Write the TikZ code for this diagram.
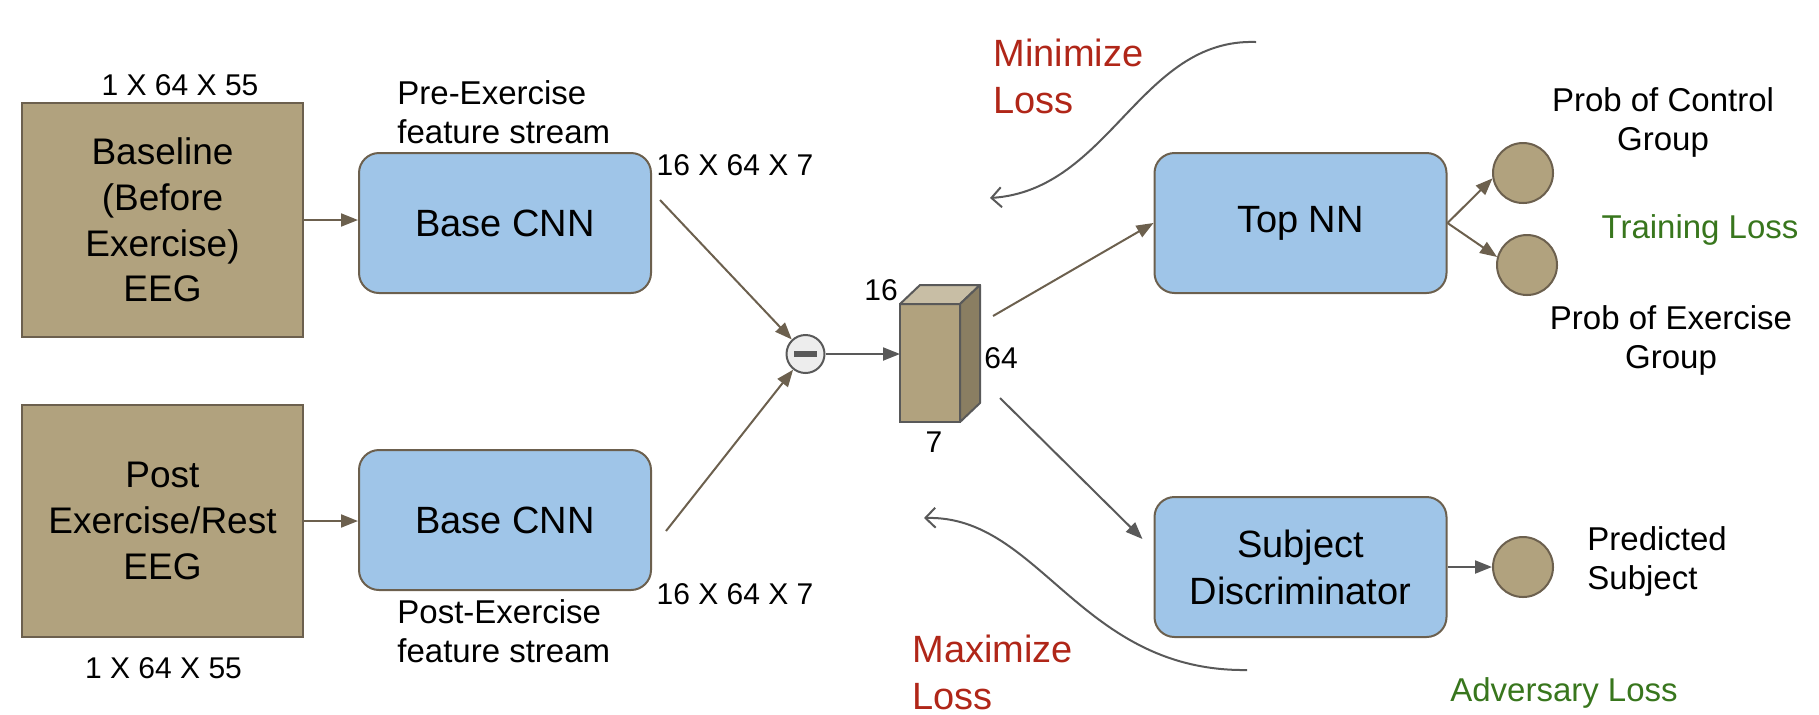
\documentclass[tikz,border=0pt]{standalone}
\usepackage{fontspec}
\setmainfont{Liberation Sans}
\usepackage{tikz}
\usetikzlibrary{arrows.meta,calc,positioning}
\definecolor{tierra}{RGB}{177,162,126}
\definecolor{borde}{RGB}{108,96,78}
\definecolor{celeste}{RGB}{159,197,232}
\definecolor{gris}{RGB}{89,89,89}
\definecolor{rojo}{RGB}{176,38,24}
\definecolor{verde}{RGB}{56,118,29}
\tikzset{
  entrada/.style={rectangle,fill=tierra,draw=borde,line width=1pt,minimum width=140.5pt,align=center,font=\fontsize{18.5}{22.8}\selectfont},
  capa/.style={rectangle,rounded corners=10pt,fill=celeste,draw=borde,line width=1pt,minimum width=146pt,minimum height=70pt,align=center,font=\fontsize{19}{23.5}\selectfont},
  salida/.style={circle,fill=tierra,draw=borde,line width=1pt,minimum size=30pt,inner sep=0pt},
  resta/.style={circle,fill=black!7,draw=gris,line width=1pt,minimum size=19pt,inner sep=0pt},
  flecha/.style={-{Triangle[length=8.5pt,width=6.5pt]},line width=1pt,draw=borde},
  curva/.style={-{Straight Barb[length=5pt,width=10pt]},line width=1pt,draw=gris},
  etiq/.style={font=\fontsize{15}{18}\selectfont,inner sep=0pt},
  nota/.style={font=\fontsize{16.5}{19.5}\selectfont,align=center,inner sep=0pt},
  perdida/.style={font=\fontsize{19}{23.5}\selectfont,align=left,inner sep=0pt,anchor=west,text=rojo}
}
\begin{document}
\begin{tikzpicture}[x=0.5pt,y=-0.5pt]
\useasboundingbox (0,0) rectangle (1819,714);
\node[entrada,minimum height=117pt] (pre) at (162.5,220) {Baseline\\(Before\\Exercise)\\EEG};
\node[entrada,minimum height=116pt] (post) at (162.5,521) {Post\\Exercise/Rest\\EEG};
\node[etiq] (dimpre) at (180,85) {1 X 64 X 55}; \node[etiq] (dimpost) at (163.5,668.5) {1 X 64 X 55};
\node[capa] (cnnpre) at (505,223) {Base CNN}; \node[capa] (cnnpost) at (505,520) {Base CNN};
\node[nota,align=left,anchor=west] (flujopre) at (397,112) {Pre-Exercise\\feature stream};
\node[nota,align=left,anchor=west] (flujopost) at (397,631) {Post-Exercise\\feature stream};
\node[etiq] (dimsup) at (735,165) {16 X 64 X 7}; \node[etiq] (diminf) at (735,594) {16 X 64 X 7};
\draw[flecha] (pre.east) -- (pre.east -| cnnpre.west); \draw[flecha] (post.east) -- (post.east -| cnnpost.west);
\node[resta] (menos) at (805.5,354) {};
\draw[gris,line width=2.8pt] ([xshift=-5.7pt]menos.center) -- ([xshift=5.7pt]menos.center);
\draw[flecha] ([shift={(8,-23)}]cnnpre.east) -- (menos); \draw[flecha] ([shift={(14,11)}]cnnpost.east) -- (menos);
\node[rectangle,fill=tierra,draw=gris,line width=1pt,minimum width=30pt,minimum height=59pt,inner sep=0pt,outer sep=0pt] (feat) at (930,363) {};
\draw[gris,line width=1pt,fill=tierra!70!white,line join=round] (feat.north west) -- ++(20,-19) -- ++(60,0) -- (feat.north east) -- cycle;
\draw[gris,line width=1pt,fill=tierra!78!black,line join=round] (feat.north east) -- ++(20,-19) -- ++(0,118) -- (feat.south east) -- cycle;
\node[etiq] (cubo16) at (881,290) {16}; \node[etiq] (cubo64) at (1001,358) {64}; \node[etiq] (cubo7) at (934,442) {7};
\draw[flecha,draw=gris] (menos) -- (menos -| feat.west);
\node[capa] (top) at (1300.5,223) {Top NN}; \node[capa] (disc) at (1300.5,567) {Subject\\Discriminator};
\draw[flecha] ([shift={(33,-47)}]feat.east) -- (top.west);
\draw[flecha,draw=gris] ([shift={(40,35)}]feat.east) -- ([shift={(-11,-28)}]disc.west);
\node[salida] (control) at (1523,173) {}; \node[salida] (ejercicio) at (1527,265) {}; \node[salida] (sujeto) at (1523,567) {};
\draw[flecha] (top.east) -- (control.190); \draw[flecha] (top.east) -- (ejercicio.165); \draw[flecha,draw=gris] (disc.east) -- (sujeto.west);
\node[nota] (pcontrol) at (1663,122) {Prob of Control\\Group}; \node[nota] (pejercicio) at (1671,340.5) {Prob of Exercise\\Group};
\node[nota,text=verde] (entren) at (1700,230) {Training Loss}; \node[nota,text=verde] (advers) at (1564,693) {Adversary Loss};
\node[nota,align=left,anchor=west] (psujeto) at (1587,561) {Predicted\\Subject};
\node[perdida] (minimo) at (993,76) {Minimize\\Loss}; \node[perdida] (maximo) at (912,672) {Maximize\\Loss};
\coordinate (minini) at (1256,42); \coordinate (minfin) at (990,198);
\coordinate (maxini) at (1247,670); \coordinate (maxfin) at (924,518);
\draw[curva] (minini) .. controls (1140,38) and (1110,190) .. (minfin);
\draw[curva] (maxini) .. controls (1080,672) and (1040,515) .. (maxfin);
\end{tikzpicture}
\end{document}
